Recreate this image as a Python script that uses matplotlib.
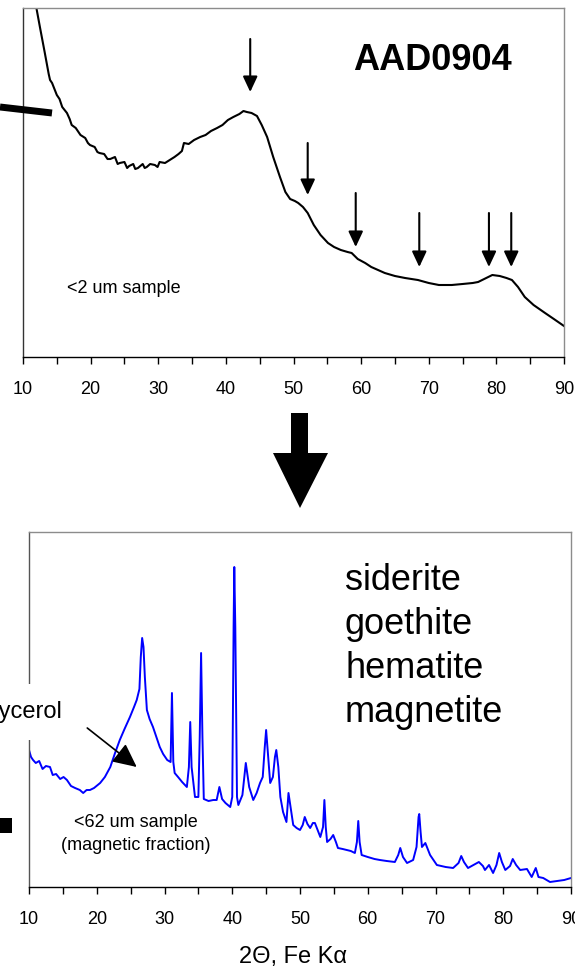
import matplotlib
matplotlib.use("Agg")
import matplotlib.pyplot as plt
from matplotlib.patches import Polygon, Rectangle
from matplotlib.lines import Line2D
from matplotlib.ticker import MultipleLocator

plt.rcParams['font.family'] = ['Liberation Sans', 'DejaVu Sans']

W, H = 575, 968

# <2 um sample, AAD0904 (black trace)
top_2theta = [11.9, 12.5, 13.2, 13.8, 14.0, 14.3, 15.0, 15.4, 15.8, 16.5, 16.9, 17.2,
              17.8, 18.2, 18.5, 19.2, 19.6, 19.9, 20.6, 21.0, 21.3, 22.0, 22.5, 22.9,
              23.6, 24.0, 24.3, 25.0, 25.4, 25.7, 26.3, 26.6, 27.0, 27.7, 28.0, 28.3,
              28.8, 29.5, 29.9, 30.2, 31.0, 31.7, 32.4, 33.0, 33.5, 33.8, 34.5, 35.3,
              36.2, 37.0, 37.8, 38.7, 39.5, 40.3, 41.1, 42.0, 42.6, 43.1, 43.8, 44.6,
              45.3, 46.1, 47.0, 48.0, 48.8, 49.5, 50.2, 50.7, 51.4, 52.1, 53.0, 54.0,
              55.1, 56.0, 57.0, 58.0, 58.6, 59.5, 60.6, 61.5, 62.5, 63.5, 65.0, 66.5,
              68.4, 70.0, 71.5, 73.4, 75.0, 76.5, 77.3, 78.2, 79.4, 80.5, 81.5, 82.3,
              83.2, 84.2, 85.5, 87.2, 88.5, 90.0]
top_counts = [352, 330, 305, 283, 277, 274, 262, 258, 250, 244, 238, 232,
              229, 225, 222, 219, 214, 212, 210, 205, 204, 203, 198, 198,
              200, 193, 194, 195, 189, 191, 193, 188, 189, 193, 189, 190,
              193, 192, 190, 195, 194, 197, 200, 203, 206, 214, 213, 217,
              220, 222, 226, 229, 232, 237, 240, 243, 246, 245, 244, 241,
              232, 220, 200, 180, 165, 158, 156, 154, 150, 144, 132, 122,
              114, 110, 107, 105, 104, 98, 94, 90, 87, 84, 81, 79,
              77, 74, 72, 72, 73, 74, 75, 78, 82, 81, 79, 77,
              70, 60, 52, 44, 38, 31]

# peak markers on the top trace: position, arrow start, arrow end
marker_2theta = [43.6, 52.1, 59.2, 68.6, 78.9, 82.2]
marker_from = [318, 214, 164, 144, 144, 144]
marker_to = [265, 162, 110, 90, 90, 90]

# <62 um magnetic fraction (blue trace)
bot_2theta = [10.0, 10.3, 10.6, 11.0, 11.5, 12.0, 12.5, 13.1, 13.5, 14.0, 14.6, 15.1,
              15.6, 16.2, 16.8, 17.5, 18.0, 18.5, 19.0, 19.6, 20.5, 21.2, 22.0, 22.7,
              23.4, 24.1, 24.9, 25.5, 25.9, 26.3, 26.5, 26.7, 26.9, 27.1, 27.4, 27.8,
              28.3, 28.8, 29.3, 29.8, 30.4, 30.9, 31.1, 31.3, 31.5, 32.0, 32.6, 33.3,
              33.6, 33.8, 34.0, 34.5, 35.0, 35.2, 35.4, 35.6, 35.8, 36.5, 37.2, 37.7,
              38.1, 38.5, 39.0, 39.7, 40.0, 40.2, 40.3, 40.45, 40.7, 40.9, 41.5, 42.0,
              42.5, 43.1, 43.6, 44.1, 44.5, 44.8, 45.0, 45.3, 45.6, 46.0, 46.3, 46.5,
              46.8, 47.1, 47.5, 48.0, 48.3, 48.5, 49.0, 49.5, 50.0, 50.4, 50.7, 51.1,
              51.5, 51.9, 52.2, 52.6, 53.0, 53.4, 53.6, 53.8, 54.0, 54.5, 54.9, 55.3,
              55.6, 56.3, 56.9, 57.5, 58.1, 58.4, 58.6, 58.8, 59.1, 60.0, 61.0, 61.8,
              62.8, 64.0, 64.5, 64.8, 65.2, 65.8, 66.7, 67.2, 67.5, 67.6, 67.8, 68.0,
              68.5, 69.2, 70.2, 71.5, 72.6, 73.4, 73.8, 74.2, 74.8, 75.6, 76.4, 77.0,
              77.3, 77.9, 78.5, 79.0, 79.4, 79.8, 80.3, 81.0, 81.4, 81.9, 82.5, 83.5,
              84.2, 84.8, 85.2, 85.9, 86.9, 88.0, 89.0, 90.0]
bot_counts = [137, 130, 127, 124, 126, 118, 121, 120, 112, 113, 108, 110,
              107, 101, 99, 97, 94, 97, 97, 99, 104, 110, 120, 134,
              147, 158, 170, 180, 187, 198, 230, 249, 240, 210, 177, 168,
              160, 150, 140, 133, 127, 125, 194, 125, 114, 110, 105, 100,
              120, 165, 120, 90, 90, 150, 234, 150, 88, 86, 87, 87,
              100, 88, 84, 80, 90, 260, 320, 260, 90, 82, 92, 124,
              100, 87, 94, 104, 110, 140, 157, 130, 104, 110, 130, 137,
              120, 90, 75, 65, 94, 85, 62, 59, 57, 62, 70, 63,
              59, 64, 64, 57, 50, 60, 87, 60, 45, 48, 52, 45,
              39, 38, 37, 36, 34, 45, 66, 45, 32, 30, 28, 27,
              26, 25, 32, 39, 30, 24, 27, 40, 70, 73, 55, 40,
              44, 32, 22, 20, 19, 24, 31, 25, 19, 22, 25, 21,
              17, 22, 14, 22, 34, 25, 17, 21, 28, 22, 17, 18,
              10, 19, 10, 9, 5, 6, 7, 9]

minerals = ["siderite", "goethite", "hematite", "magnetite"]
xticks = [10, 20, 30, 40, 50, 60, 70, 80, 90]


def px(x, y):
    return x / W, 1 - y / H


def style_axes(ax, left_color):
    ax.set_xlim(10, 90)
    ax.set_xticks(xticks)
    ax.xaxis.set_minor_locator(MultipleLocator(5))
    ax.tick_params(axis='x', which='both', direction='out', length=5,
                   width=1, colors='black', labelsize=13, pad=12)
    ax.set_yticks([])
    ax.spines['top'].set_color('#8c8c8c')
    ax.spines['right'].set_color('#8c8c8c')
    ax.spines['left'].set_color(left_color)
    ax.spines['bottom'].set_color('black')
    for s in ax.spines.values():
        s.set_linewidth(1.0)


fig = plt.figure(figsize=(W / 100, H / 100), dpi=100)

ax1 = fig.add_axes([23 / W, 1 - 357 / H, 541 / W, 349 / H])
ax1.plot(top_2theta, top_counts, color='black', lw=1.5)
ax1.set_ylim(0, 349)
style_axes(ax1, '#333333')
for xm, y0, y1 in zip(marker_2theta, marker_from, marker_to):
    ax1.annotate('', xy=(xm, y1), xytext=(xm, y0),
                 arrowprops=dict(arrowstyle='-|>,head_length=0.47,head_width=0.22',
                                 mutation_scale=20, lw=1.5, color='black',
                                 shrinkA=0, shrinkB=0))
ax1.text(*px(432, 70), "AAD0904", transform=fig.transFigure, fontsize=26,
         fontweight='bold', ha='center', va='baseline')
ax1.text(*px(124, 293), "<2 um sample", transform=fig.transFigure, fontsize=13,
         ha='center', va='baseline')

ax2 = fig.add_axes([29 / W, 1 - 887 / H, 542 / W, 355 / H])
ax2.plot(bot_2theta, bot_counts, color='#0000ff', lw=1.4)
ax2.set_ylim(0, 355)
style_axes(ax2, '#555555')
ax2.annotate('', xy=(25.9, 120), xytext=(18.6, 159),
             arrowprops=dict(arrowstyle='-|>,head_length=0.58,head_width=0.28',
                             mutation_scale=25, lw=1.2, color='black',
                             shrinkA=0, shrinkB=0))
ax2.text(*px(136, 827), "<62 um sample", transform=fig.transFigure, fontsize=13,
         ha='center', va='baseline')
ax2.text(*px(136, 850), "(magnetic fraction)", transform=fig.transFigure, fontsize=13,
         ha='center', va='baseline')
for name, yb in zip(minerals, [590, 634, 678, 722]):
    fig.text(*px(345, yb), name, fontsize=26, ha='left', va='baseline')

fig.text(*px(62, 712), "glycerol", fontsize=17, ha='right', va='center',
         bbox=dict(boxstyle='square,pad=0.7', fc='white', ec='none'))

fig.text(*px(293, 957), "2\u0398, Fe K\u03b1", fontsize=17, ha='center', va='center')

# big arrow between the panels
big = [px(291, 413), px(308, 413), px(308, 453), px(328, 453), px(300, 508),
       px(273, 453), px(291, 453)]
fig.add_artist(Polygon(big, closed=True, transform=fig.transFigure,
                       fc='black', ec='none'))

# pieces of cropped callouts at the left edge
fig.add_artist(Line2D([0, 52 / W], [1 - 107 / H, 1 - 113 / H], transform=fig.transFigure,
                      color='black', lw=5, solid_capstyle='butt'))
fig.add_artist(Rectangle(px(0, 833), 12 / W, 15 / H, transform=fig.transFigure,
                         fc='black', ec='none'))

fig.savefig('out.png', dpi=100)
